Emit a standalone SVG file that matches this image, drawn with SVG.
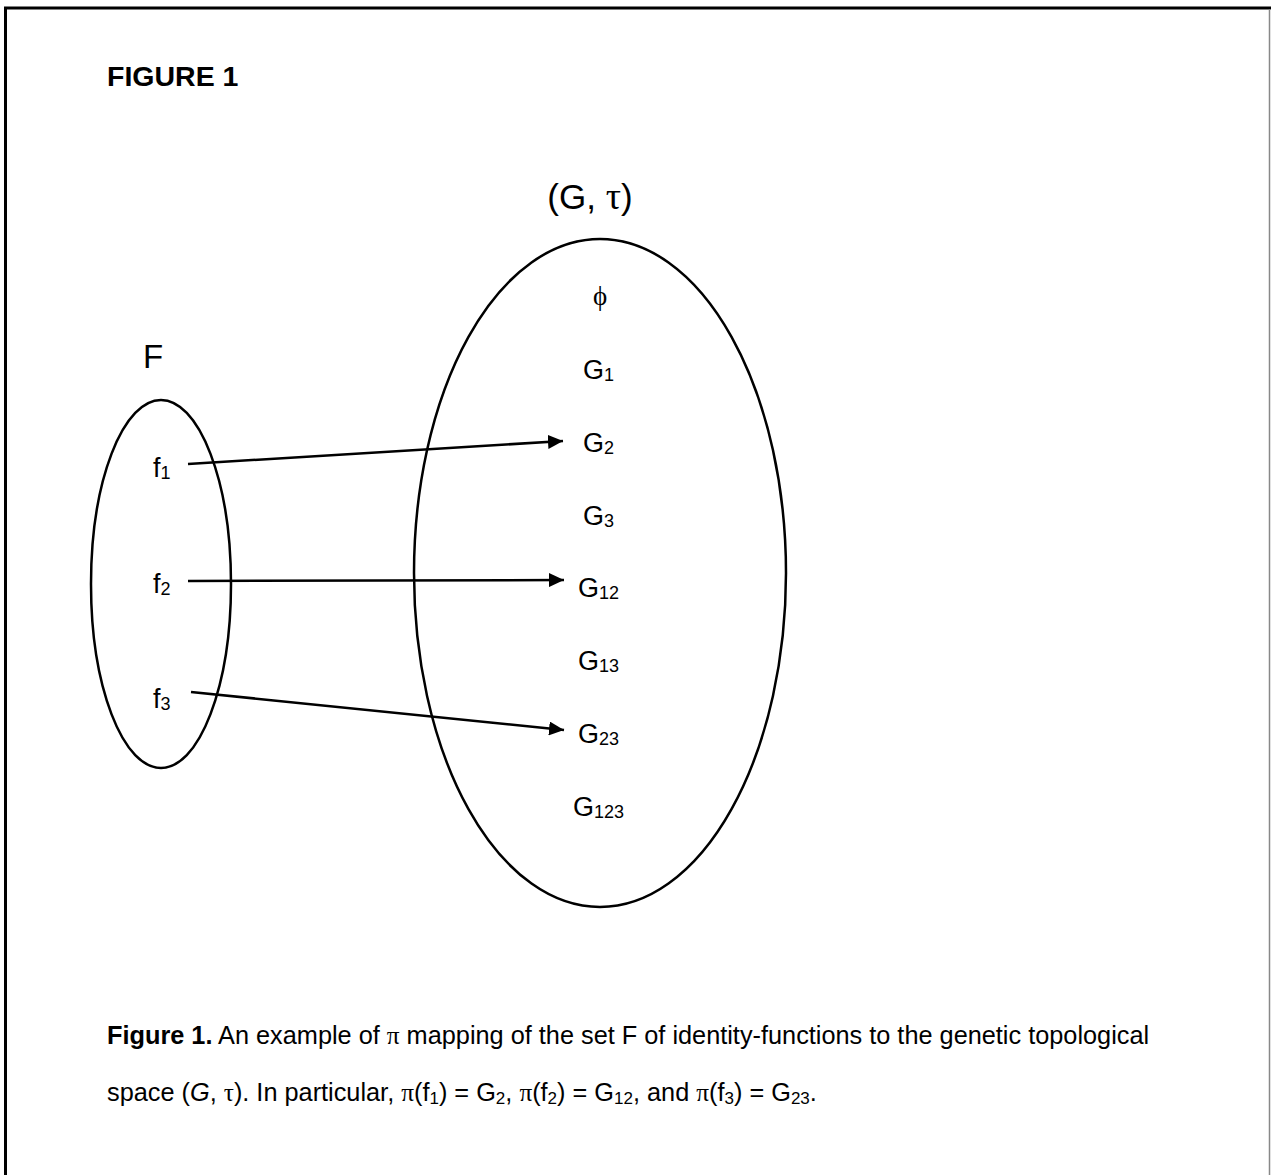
<svg xmlns="http://www.w3.org/2000/svg" width="1271" height="1175" viewBox="0 0 1271 1175">
<style>
text{font-family:"Liberation Sans",Arial,sans-serif;fill:#000}
.gr{font-family:"Liberation Serif","Times New Roman",serif}
.lbl{font-size:27px}
.sub{font-size:18px}
.cap{font-size:25.3px}
.csub{font-size:17px}
.shape{fill:none;stroke:#000;stroke-width:2.5}
.conn{fill:none;stroke:#000;stroke-width:2.5}
</style>
<defs>
<marker id="arr" markerUnits="userSpaceOnUse" markerWidth="16" markerHeight="14" refX="15" refY="7" orient="auto">
<path d="M0,0 L15,7 L0,14 z" fill="#000"/>
</marker>
</defs>
<rect width="1271" height="1175" fill="#fff"/>
<g id="frame">
<line x1="4" y1="8" x2="1271" y2="8" stroke="#000" stroke-width="3"/>
<line x1="5.5" y1="7" x2="5.5" y2="1175" stroke="#000" stroke-width="3"/>
<line x1="1269.5" y1="9" x2="1269.5" y2="1175" stroke="#888" stroke-width="1.5"/>
</g>
<text x="107" y="86" style="font-size:28.5px;font-weight:bold">FIGURE 1</text>
<g id="setF">
<ellipse class="shape" cx="161" cy="584" rx="70" ry="184"/>
<text x="143" y="368" style="font-size:33px">F</text>
<text class="lbl" x="153" y="477">f<tspan class="sub" dy="2">1</tspan></text>
<text class="lbl" x="153" y="593">f<tspan class="sub" dy="2">2</tspan></text>
<text class="lbl" x="153" y="708">f<tspan class="sub" dy="2">3</tspan></text>
</g>
<g id="setG">
<ellipse class="shape" cx="600" cy="573" rx="186" ry="334"/>
<text x="590" y="209" text-anchor="middle" style="font-size:35px">(G, <tspan class="gr" style="font-size:38px">τ</tspan>)</text>
<text class="gr lbl" x="600" y="305" text-anchor="middle">ϕ</text>
<text class="lbl" x="583" y="379">G<tspan class="sub" dy="2">1</tspan></text>
<text class="lbl" x="583" y="452">G<tspan class="sub" dy="2">2</tspan></text>
<text class="lbl" x="583" y="525">G<tspan class="sub" dy="2">3</tspan></text>
<text class="lbl" x="578" y="597">G<tspan class="sub" dy="2">12</tspan></text>
<text class="lbl" x="578" y="670">G<tspan class="sub" dy="2">13</tspan></text>
<text class="lbl" x="578" y="743">G<tspan class="sub" dy="2">23</tspan></text>
<text class="lbl" x="573" y="816">G<tspan class="sub" dy="2">123</tspan></text>
</g>
<g id="connectors">
<line class="conn" x1="188" y1="464" x2="563" y2="441" marker-end="url(#arr)"/>
<line class="conn" x1="188" y1="581" x2="564" y2="580" marker-end="url(#arr)"/>
<line class="conn" x1="191" y1="692" x2="564" y2="730" marker-end="url(#arr)"/>
</g>
<g id="caption">
<text class="cap" x="107" y="1044"><tspan font-weight="bold">Figure 1.</tspan> An example of <tspan class="gr">π</tspan> mapping of the set F of identity-functions to the genetic topological</text>
<text class="cap" x="107" y="1101">space (<tspan font-style="italic">G</tspan>, <tspan class="gr">τ</tspan>). In particular, <tspan class="gr">π</tspan>(f<tspan class="csub" dy="3">1</tspan><tspan dy="-3">) = G</tspan><tspan class="csub" dy="3">2</tspan><tspan dy="-3">, </tspan><tspan class="gr">π</tspan>(f<tspan class="csub" dy="3">2</tspan><tspan dy="-3">) = G</tspan><tspan class="csub" dy="3">12</tspan><tspan dy="-3">, and </tspan><tspan class="gr">π</tspan>(f<tspan class="csub" dy="3">3</tspan><tspan dy="-3">) = G</tspan><tspan class="csub" dy="3">23</tspan><tspan dy="-3">.</tspan></text>
</g>
</svg>
